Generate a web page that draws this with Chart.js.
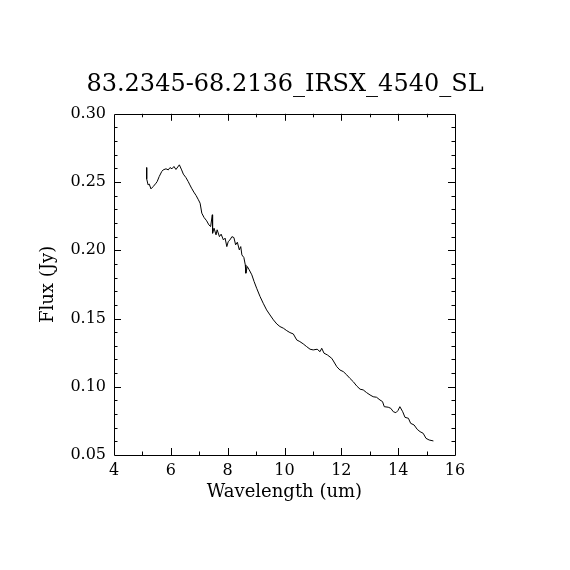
<!DOCTYPE html>
<html>
<head>
<meta charset="utf-8">
<script src="https://cdn.jsdelivr.net/npm/chart.js@4/dist/chart.umd.min.js"></script>
<style>
html,body{margin:0;padding:0;background:#fff;}
canvas{display:block;}
</style>
</head>
<body>
<canvas id="c" width="570" height="570"></canvas>
<script>
const chartTitle = "83.2345-68.2136_IRSX_4540_SL";
const xAxisTitle = "Wavelength (um)";
const yAxisTitle = "Flux (Jy)";

const wavelength = [
5.15,5.15,5.20,5.24,5.30,5.38,5.48,5.52,5.59,5.68,5.73,5.83,5.91,5.97,6.04,6.11,6.18,6.30,6.38,6.44,
6.53,6.61,6.67,6.73,6.81,6.89,6.97,7.03,7.09,7.17,7.26,7.34,7.40,7.46,7.47,7.52,7.59,7.63,7.71,7.77,
7.85,7.91,7.97,8.02,8.08,8.15,8.22,8.28,8.34,8.41,8.46,8.50,8.57,8.62,8.64,8.69,8.76,8.85,8.93,9.02,
9.14,9.25,9.37,9.49,9.61,9.73,9.84,9.96,10.08,10.19,10.31,10.43,10.54,10.66,10.78,10.90,11.01,11.15,11.25,11.31,
11.39,11.51,11.66,11.70,11.84,11.95,12.07,12.19,12.30,12.42,12.54,12.66,12.77,12.89,13.01,13.12,13.24,13.36,13.45,13.51,
13.65,13.74,13.83,13.92,13.99,14.06,14.16,14.24,14.36,14.44,14.56,14.67,14.77,14.88,14.98,15.09,15.24
];
const flux = [
0.2606,0.2523,0.2479,0.2485,0.2450,0.2467,0.2492,0.2504,0.2540,0.2577,0.2589,0.2597,0.2589,0.2606,0.2597,0.2614,0.2592,0.2626,0.2589,0.2558,
0.2533,0.2504,0.2479,0.2455,0.2426,0.2401,0.2370,0.2345,0.2272,0.2240,0.2216,0.2186,0.2174,0.2260,0.2125,0.2162,0.2113,0.2150,0.2100,0.2118,
0.2076,0.2089,0.2027,0.2064,0.2076,0.2100,0.2093,0.2040,0.2059,0.2003,0.2027,0.1966,0.1947,0.1893,0.1832,0.1881,0.1856,0.1820,0.1771,0.1722,
0.1661,0.1612,0.1563,0.1526,0.1490,0.1460,0.1441,0.1429,0.1411,0.1397,0.1387,0.1343,0.1331,0.1314,0.1294,0.1275,0.1270,0.1275,0.1257,0.1282,
0.1246,0.1233,0.1209,0.1196,0.1147,0.1123,0.1111,0.1087,0.1062,0.1037,0.1006,0.0982,0.0977,0.0957,0.0940,0.0927,0.0923,0.0903,0.0891,0.0854,
0.0850,0.0842,0.0817,0.0810,0.0825,0.0854,0.0817,0.0776,0.0769,0.0732,0.0720,0.0688,0.0671,0.0659,0.0622,0.0610,0.0603
];

const xMin = 4, xMax = 16, xStep = 2, xMinorStep = 1;
const yMin = 0.05, yMax = 0.30, yStep = 0.05, yMinorStep = 0.01;

const fontFamily = "'DejaVu Serif', 'Liberation Serif', serif";

const points = wavelength.map((w, i) => ({x: w, y: flux[i]}));

const boxTicks = {
  id: 'boxTicks',
  afterDatasetsDraw(chart) {
    const {ctx, chartArea: a, scales} = chart;
    const xs = scales.x, ys = scales.y;
    ctx.save();
    ctx.strokeStyle = '#000';
    ctx.lineWidth = 1;
    ctx.beginPath();
    ctx.rect(Math.round(a.left) + 0.5, Math.round(a.top) + 0.5, Math.round(a.right - a.left), Math.round(a.bottom - a.top));
    ctx.stroke();
    const major = 7, minor = 3.5;
    ctx.beginPath();
    const nx = Math.round((xMax - xMin) / xMinorStep);
    for (let i = 1; i < nx; i++) {
      const v = xMin + i * xMinorStep;
      const isMajor = Math.abs((v - xMin) / xStep - Math.round((v - xMin) / xStep)) < 1e-6;
      const len = isMajor ? major : minor;
      const px = Math.round(xs.getPixelForValue(v)) + 0.5;
      ctx.moveTo(px, a.bottom); ctx.lineTo(px, a.bottom - len);
      ctx.moveTo(px, a.top); ctx.lineTo(px, a.top + len);
    }
    const ny = Math.round((yMax - yMin) / yMinorStep);
    for (let i = 1; i < ny; i++) {
      const v = yMin + i * yMinorStep;
      const isMajor = (i % Math.round(yStep / yMinorStep)) === 0;
      const len = isMajor ? major : minor;
      const py = Math.round(ys.getPixelForValue(v)) + 0.5;
      ctx.moveTo(a.left, py); ctx.lineTo(a.left + len, py);
      ctx.moveTo(a.right, py); ctx.lineTo(a.right - len, py);
    }
    ctx.stroke();
    ctx.restore();
  }
};

new Chart(document.getElementById('c'), {
  type: 'line',
  data: {
    datasets: [{
      data: points,
      borderColor: '#000',
      borderWidth: 1,
      pointRadius: 0,
      tension: 0,
      fill: false
    }]
  },
  options: {
    responsive: false,
    animation: false,
    devicePixelRatio: 1,
    layout: {padding: {left: 0, right: 0, top: 0, bottom: 60}},
    plugins: {
      legend: {display: false},
      tooltip: {enabled: false},
      title: {
        display: true,
        text: chartTitle,
        color: '#000',
        font: {family: fontFamily, size: 24, weight: 'normal'},
        padding: {top: 70, bottom: 15}
      }
    },
    scales: {
      x: {
        type: 'linear',
        position: 'bottom',
        min: xMin, max: xMax,
        afterFit(s) { s.height = 55; },
        grid: {display: false, drawTicks: false},
        border: {display: false},
        ticks: {
          stepSize: xStep,
          padding: 6,
          color: '#000',
          maxRotation: 0,
          font: {family: fontFamily, size: 16},
          callback: v => String(v)
        },
        title: {
          display: true,
          text: xAxisTitle,
          color: '#000',
          font: {family: fontFamily, size: 18},
          padding: {top: 0, bottom: 7}
        }
      },
      y: {
        type: 'linear',
        position: 'left',
        min: yMin, max: yMax,
        afterFit(s) { s.width = 114; },
        grid: {display: false, drawTicks: false},
        border: {display: false},
        ticks: {
          stepSize: yStep,
          padding: 8,
          color: '#000',
          font: {family: fontFamily, size: 16},
          callback: v => Number(v).toFixed(2)
        },
        title: {
          display: true,
          text: yAxisTitle,
          color: '#000',
          font: {family: fontFamily, size: 18},
          padding: {top: 38, bottom: 0}
        }
      },
      yRight: {
        type: 'linear',
        position: 'right',
        display: true,
        afterFit(s) { s.width = 115; },
        grid: {display: false, drawTicks: false},
        border: {display: false},
        ticks: {display: false}
      }
    }
  },
  plugins: [boxTicks]
});
</script>
</body>
</html>
